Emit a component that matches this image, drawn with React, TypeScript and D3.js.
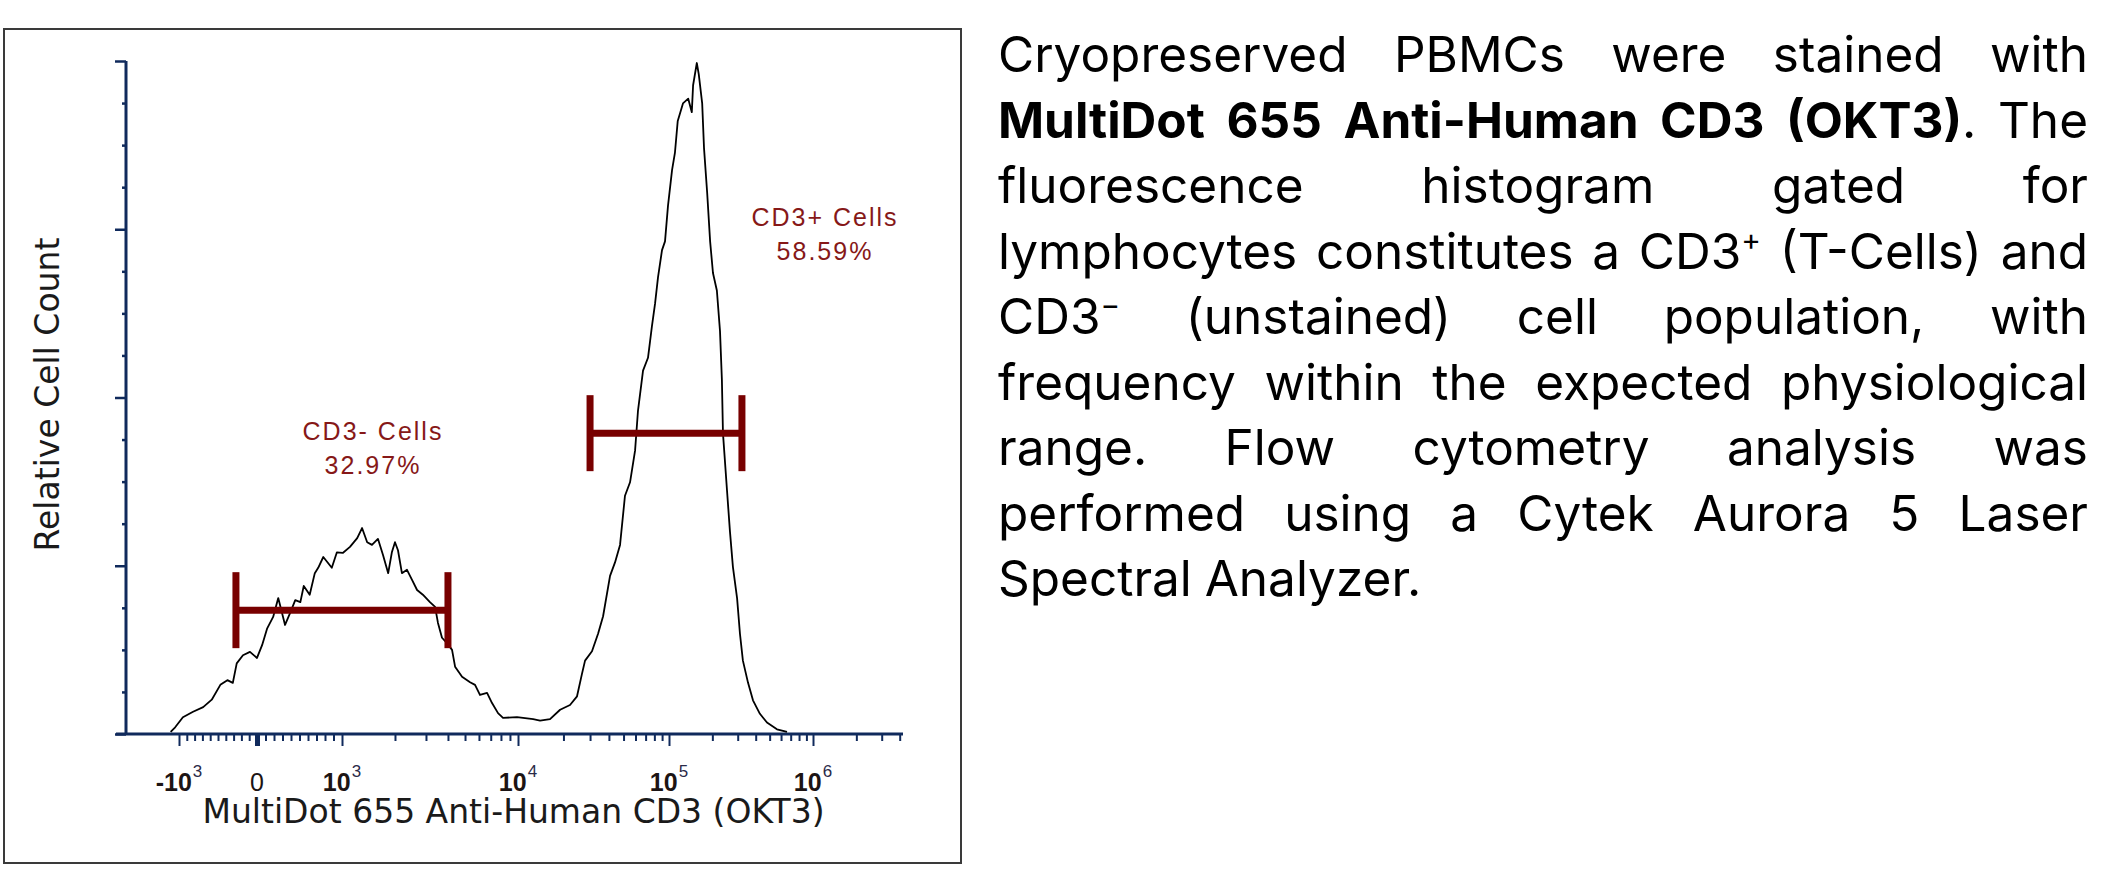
// Flow cytometry histogram (CD3 staining) with a justified caption on the right
import { useEffect, useRef } from 'react'
import * as d3 from 'd3'

// Histogram: fluorescence intensity vs relative cell count
const intensity = [
  -1280, -1120, -950, -820, -690, -580, -470, -380, -310, -260, -180, -90,
  0, 60, 120, 190, 250, 330, 390, 450, 510, 550, 620, 680, 720, 780, 880, 940,
  1010, 1110, 1220, 1300, 1390, 1480, 1600, 1710, 1830, 1920, 2000, 2080, 2190, 2340, 2500,
  2670, 2880, 3160, 3380, 3510, 3700, 3950, 4220, 4390, 4810, 5340, 5700, 6080, 6670, 7120,
  7700, 8220, 9870,
  12600, 14000, 16300, 19000, 22100, 24600, 26500, 27800, 30900, 33900, 36600, 40700, 43900,
  47400, 51100, 55200, 59600, 62300, 67300, 72600, 77100, 80800, 84600, 89900, 94100, 98500,
  105000, 110000, 115000, 125000, 136000, 144000, 147000, 156000, 161000, 170000, 175000,
  184000, 193000, 202000, 215000, 226000, 233000, 237000, 253000, 265000, 278000, 297000,
  311000, 326000, 354000, 383000, 428000, 479000, 562000, 660000
]
const relCount = [
  0.3, 1.0, 2.5, 3.3, 4.0, 5.1, 7.3, 8.0, 7.6, 10.5, 11.7, 12.2,
  11.3, 13.2, 15.7, 17.4, 20.2, 16.2, 18.0, 19.9, 19.6, 22.0, 20.7, 23.9, 24.7, 26.3, 24.7, 27.0,
  26.9, 27.8, 29.1, 30.6, 28.5, 28.1, 29.0, 26.6, 23.9, 27.0, 28.5, 27.3, 23.9, 24.4, 22.9,
  21.4, 20.7, 19.6, 18.9, 16.5, 14.3, 13.5, 12.5, 10.0, 8.5, 7.7, 7.3, 5.8, 6.1, 4.6,
  3.1, 2.4, 2.5,
  2.2, 2.0, 2.2, 3.6, 4.3, 5.6, 8.9, 10.9, 12.3, 14.9, 17.5, 23.5, 25.5,
  28.1, 35.4, 37.4, 42.1, 48.0, 54.0, 55.9, 60.6, 63.9, 67.9, 71.9, 73.2, 78.5,
  83.8, 86.4, 91.1, 93.7, 94.4, 92.4, 96.4, 99.7, 98.0, 93.7, 87.1,
  80.5, 73.2, 68.5, 65.9, 59.9, 52.6, 44.7, 36.1, 30.1, 24.8, 20.2,
  14.9, 10.9, 7.6, 5.0, 3.0, 1.7, 0.7, 0.3
]

// Gates
const gateName = ['CD3- Cells', 'CD3+ Cells']
const gatePct = ['32.97%', '58.59%']
const gateFrom = [-270, 30000]
const gateTo = [4000, 321000]
const gateLevel = [18.4, 44.7]

// Axes
const decadeTicks = [-1e3, 0, 1e3, 1e4, 1e5, 1e6]
const decadeBase = ['-10', '0', '10', '10', '10', '10']
const decadeExp = ['3', '', '3', '4', '5', '6']
const countTicks = [0, 25, 50, 75, 100]
const xTitle = 'MultiDot 655 Anti-Human CD3 (OKT3)'
const yTitle = 'Relative Cell Count'

// Caption: {bold}, ^superscript
const captionLines = [
  'Cryopreserved PBMCs were stained with',
  '{MultiDot} {655} {Anti-Human} {CD3} {(OKT3)}. The',
  'fluorescence histogram gated for',
  'lymphocytes constitutes a CD3^+ (T-Cells) and',
  'CD3^\u2212 (unstained) cell population, with',
  'frequency within the expected physiological',
  'range. Flow cytometry analysis was',
  'performed using a Cytek Aurora 5 Laser',
  'Spectral Analyzer.'
]

// layout
const W = 2123
const H = 870
const frame = { x: 4, y: 29, w: 957, h: 834 }
const plot = { left: 126, right: 903, top: 61, bottom: 734 }
const decadePx = [179, 257, 342, 518, 669, 813]
const gateLabelPos = [[373, 440], [825, 226]]
const caption = { left: 998, right: 2088, top: 72, lead: 65.5, size: 49.5 }

const axisColor = '#102a5c'
const gateColor = '#780000'

// linear between -10^3 and 10^3, log above
const toDecades = (v: number) =>
  Math.abs(v) <= 1000 ? v / 1000 : Math.sign(v) * (1 + Math.log10(Math.abs(v) / 1000))

const parseWord = (w: string) => {
  const segs: { t: string; b?: boolean; sup?: boolean }[] = []
  const re = /\{([^}]*)\}|\^(.+)$|([^{^]+)/g
  let m
  while ((m = re.exec(w))) {
    if (m[1] !== undefined) segs.push({ t: m[1], b: true })
    else if (m[2] !== undefined) segs.push({ t: m[2], sup: true })
    else segs.push({ t: m[3] })
  }
  return segs
}

export default function App() {
  const svgRef = useRef<SVGSVGElement>(null)

  useEffect(() => {
    if (!svgRef.current) return
    const svg = d3.select(svgRef.current)
    svg.selectAll('*').remove()

    const xs = d3.scaleLinear().domain(decadeTicks.map(toDecades)).range(decadePx)
    const x = (v: number) => xs(toDecades(v))
    const ys = d3.scaleLinear().domain([0, 100]).range([plot.bottom, plot.top])

    // frame
    svg.append('rect')
      .attr('x', frame.x).attr('y', frame.y)
      .attr('width', frame.w).attr('height', frame.h)
      .attr('fill', 'none').attr('stroke', '#3a3a3a').attr('stroke-width', 2)

    const g = svg.append('g')

    // minor x ticks
    const tMax = xs.invert(plot.right)
    const minorX: number[] = []
    for (let k = 1; k <= 9; k++) minorX.push(k / 10, -k / 10)
    for (let d = 1; d <= 4; d++) {
      for (let m = 2; m <= 9; m++) {
        const t = d + Math.log10(m)
        if (t < tMax) minorX.push(t)
      }
    }

    const xAxisMinor = g.append('g')
      .attr('transform', `translate(0,${plot.bottom})`)
      .call(d3.axisBottom(xs).tickValues(minorX).tickSize(7).tickFormat(() => ''))
    xAxisMinor.select('.domain').remove()

    const xAxisMajor = g.append('g')
      .attr('transform', `translate(0,${plot.bottom})`)
      .call(d3.axisBottom(xs).tickValues(decadeTicks.map(toDecades)).tickSize(12).tickFormat(() => ''))
    xAxisMajor.select('.domain').remove()

    g.selectAll('.tick line').attr('stroke', axisColor).attr('stroke-width', 2)
    xAxisMajor.selectAll<SVGGElement, number>('.tick')
      .filter(d => d === 0)
      .select('line').attr('stroke-width', 5)

    // y ticks
    const minorY = d3.range(0, 100.01, 6.25).filter(v => !countTicks.includes(v))
    const yMinor = g.append('g')
      .attr('transform', `translate(${plot.left},0)`)
      .call(d3.axisLeft(ys).tickValues(minorY).tickSize(4).tickFormat(() => ''))
    yMinor.select('.domain').remove()
    const yMajor = g.append('g')
      .attr('transform', `translate(${plot.left},0)`)
      .call(d3.axisLeft(ys).tickValues(countTicks).tickSize(11).tickFormat(() => ''))
    yMajor.select('.domain').remove()
    yMinor.selectAll('.tick line').attr('stroke', axisColor).attr('stroke-width', 2.5)
    yMajor.selectAll('.tick line').attr('stroke', axisColor).attr('stroke-width', 2.5)

    // axis lines
    g.append('line')
      .attr('x1', plot.left).attr('x2', plot.left)
      .attr('y1', plot.top).attr('y2', plot.bottom)
      .attr('stroke', axisColor).attr('stroke-width', 3)
    g.append('line')
      .attr('x1', plot.left - 10).attr('x2', plot.right)
      .attr('y1', plot.bottom).attr('y2', plot.bottom)
      .attr('stroke', axisColor).attr('stroke-width', 3)

    // tick labels with exponents
    decadeTicks.forEach((v, i) => {
      const t = g.append('text')
        .attr('x', x(v)).attr('y', plot.bottom + 57)
        .attr('text-anchor', 'middle')
        .attr('font-family', '"Liberation Sans", Arial, sans-serif')
        .attr('font-size', 25)
        .attr('fill', '#1c1414')
      t.append('tspan')
        .attr('font-weight', decadeExp[i] ? 700 : 400)
        .text(decadeBase[i])
      if (decadeExp[i]) {
        t.append('tspan')
          .attr('dy', -14)
          .attr('dx', 1)
          .attr('font-size', 17)
          .attr('fill', '#2a2a48')
          .text(decadeExp[i])
      }
    })

    // axis titles
    g.append('text')
      .attr('x', (plot.left + plot.right) / 2 - 1)
      .attr('y', plot.bottom + 89)
      .attr('text-anchor', 'middle')
      .attr('font-family', '"DejaVu Sans", Verdana, sans-serif')
      .attr('font-size', 33)
      .attr('fill', '#1a1a1a')
      .text(xTitle)

    g.append('text')
      .attr('transform', `translate(59,${(plot.top + plot.bottom) / 2 - 3}) rotate(-90)`)
      .attr('text-anchor', 'middle')
      .attr('font-family', '"DejaVu Sans", Verdana, sans-serif')
      .attr('font-size', 33)
      .attr('fill', '#1a1a1a')
      .text(yTitle)

    // histogram
    const line = d3.line<number>()
      .x(i => x(intensity[i]))
      .y(i => ys(relCount[i]))
    g.append('path')
      .datum(d3.range(intensity.length))
      .attr('fill', 'none')
      .attr('stroke', '#000')
      .attr('stroke-width', 1.8)
      .attr('stroke-linejoin', 'round')
      .attr('d', line)

    // gates
    gateName.forEach((name, i) => {
      const x0 = x(gateFrom[i])
      const x1 = x(gateTo[i])
      const yv = ys(gateLevel[i])
      const gate = g.append('g').attr('stroke', gateColor).attr('stroke-width', 7)
      gate.append('line').attr('x1', x0).attr('x2', x1).attr('y1', yv).attr('y2', yv)
      ;[x0, x1].forEach(xx => {
        gate.append('line').attr('x1', xx).attr('x2', xx).attr('y1', yv - 38).attr('y2', yv + 38)
      })

      const [lx, ly] = gateLabelPos[i]
      const label = g.append('text')
        .attr('text-anchor', 'middle')
        .attr('font-family', '"Liberation Sans", Arial, sans-serif')
        .attr('font-size', 25)
        .attr('letter-spacing', 2)
        .attr('fill', '#861818')
      label.append('tspan').attr('x', lx).attr('y', ly).text(name)
      label.append('tspan').attr('x', lx).attr('y', ly + 34).text(gatePct[i])
    })

    // caption, justified
    const para = svg.append('g')
      .attr('font-family', 'Inter, "Noto Sans", sans-serif')
      .attr('font-size', caption.size)
      .attr('fill', '#000')

    captionLines.forEach((ln, li) => {
      const y = caption.top + li * caption.lead
      const nodes = ln.split(' ').map(w => {
        const t = para.append('text').attr('y', y)
        parseWord(w).forEach(s => {
          const ts = t.append('tspan').text(s.t)
          if (s.b) ts.attr('font-weight', 700)
          if (s.sup) ts.attr('font-size', caption.size * 0.6).attr('dy', -caption.size * 0.38)
        })
        return t
      })
      const widths = nodes.map(n => (n.node() as SVGTextElement).getComputedTextLength())
      const total = d3.sum(widths)
      const isLast = li === captionLines.length - 1
      const gap = isLast || nodes.length < 2
        ? caption.size * 0.26
        : (caption.right - caption.left - total) / (nodes.length - 1)
      let cx = caption.left
      nodes.forEach((n, i) => {
        n.attr('x', cx)
        cx += widths[i] + gap
      })
    })
  }, [])

  return (
    <svg
      ref={svgRef}
      width={W}
      height={H}
      style={{ position: 'absolute', left: 0, top: 0, background: '#fff' }}
    />
  )
}
